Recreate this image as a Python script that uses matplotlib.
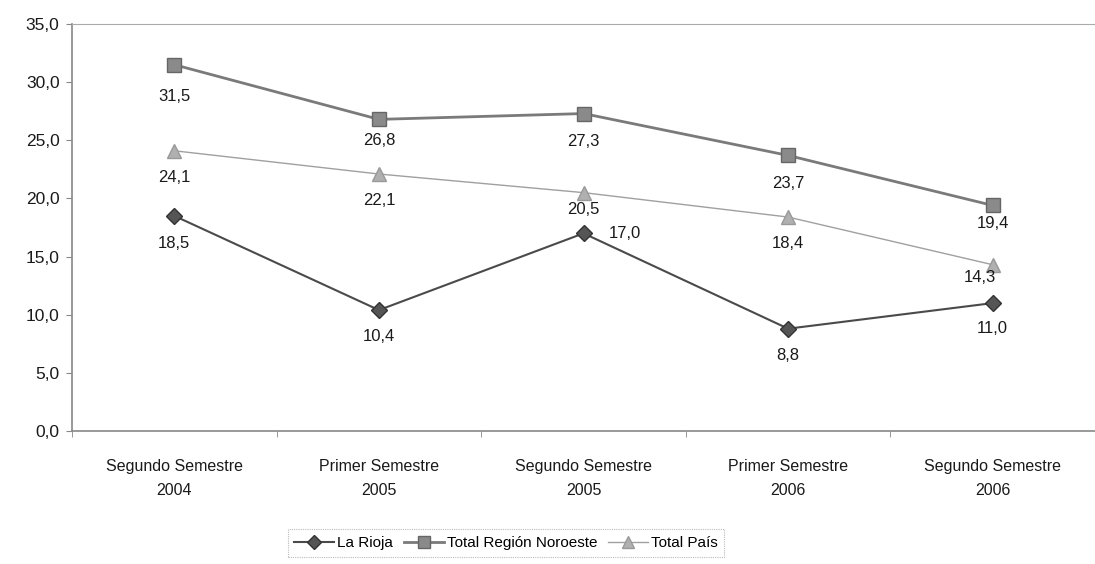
import numpy as np
import matplotlib
matplotlib.use("Agg")
import matplotlib.pyplot as plt

plt.rcParams['font.family'] = ['Liberation Sans', 'DejaVu Sans']

# datos
categorias = ["Segundo Semestre\n2004", "Primer Semestre\n2005", "Segundo Semestre\n2005",
              "Primer Semestre\n2006", "Segundo Semestre\n2006"]
la_rioja = [18.5, 10.4, 17.0, 8.8, 11.0]
noroeste = [31.5, 26.8, 27.3, 23.7, 19.4]
total_pais = [24.1, 22.1, 20.5, 18.4, 14.3]

# desplazamiento de etiquetas (puntos)
off_rioja = [(0, -20), (0, -19), (30, 0), (0, -19), (0, -18)]
off_noroeste = [(0, -23), (0, -15), (0, -20), (0, -20), (0, -13)]
off_pais = [(0, -19), (0, -19), (0, -12), (0, -19), (-9, -9)]

fig = plt.figure(figsize=(10.95, 5.64), dpi=100)
ax = fig.add_axes([0.0658, 0.2358, 0.9342, 0.7216])

x = np.arange(len(categorias))

l1, = ax.plot(x, la_rioja, color='#4a4a4a', lw=1.5, marker='D', ms=8.5,
              mfc='#555555', mec='#333333', label='La Rioja')
l2, = ax.plot(x, noroeste, color='#7a7a7a', lw=2.0, marker='s', ms=10,
              mfc='#8a8a8a', mec='#666666', label='Total Región Noroeste')
l3, = ax.plot(x, total_pais, color='#a0a0a0', lw=1.0, marker='^', ms=10,
              mfc='#b0b0b0', mec='#999999', label='Total País')

def etiquetas(vals, offs):
    for i, v in enumerate(vals):
        dx, dy = offs[i]
        ax.annotate(f"{v:.1f}".replace('.', ','), (x[i], v), xytext=(dx, dy),
                    textcoords='offset points', ha='center', va='center',
                    fontsize=12, color='#1a1a1a')

etiquetas(la_rioja, off_rioja)
etiquetas(noroeste, off_noroeste)
etiquetas(total_pais, off_pais)

ax.set_xlim(-0.5, len(categorias) - 0.5)
ax.set_ylim(0, 35)
ax.set_yticks(np.arange(0, 35.1, 5))
ax.set_yticklabels([f"{v:.1f}".replace('.', ',') for v in np.arange(0, 35.1, 5)],
                   fontsize=12.5, color='#1a1a1a')
ax.set_xticks(x)
ax.set_xticklabels(categorias, fontsize=11.5, color='#1a1a1a', linespacing=1.75)
ax.set_xticks(np.arange(-0.5, len(categorias), 1), minor=True)
ax.tick_params(axis='x', which='major', length=0, pad=20)
ax.tick_params(axis='x', which='minor', length=4, color='#888888')
ax.tick_params(axis='y', length=4, color='#888888', pad=5)

for s in ['left', 'bottom']:
    ax.spines[s].set_color('#888888')
    ax.spines[s].set_linewidth(1.2)
ax.spines['top'].set_color('#aaaaaa')
ax.spines['top'].set_linestyle((0, (1, 1)))
ax.spines['right'].set_visible(False)

leg = fig.legend(handles=[l1, l2, l3], loc='center', bbox_to_anchor=(0.462, 0.037),
                 ncol=3, frameon=True, fontsize=11, handlelength=2.6,
                 columnspacing=0.7, handletextpad=0.2, borderpad=0.45,
                 fancybox=False, markerscale=0.85)
leg.get_frame().set_edgecolor('#aaaaaa')
leg.get_frame().set_linestyle((0, (1, 1)))
leg.get_frame().set_linewidth(0.8)

fig.savefig('out.png', dpi=100)
